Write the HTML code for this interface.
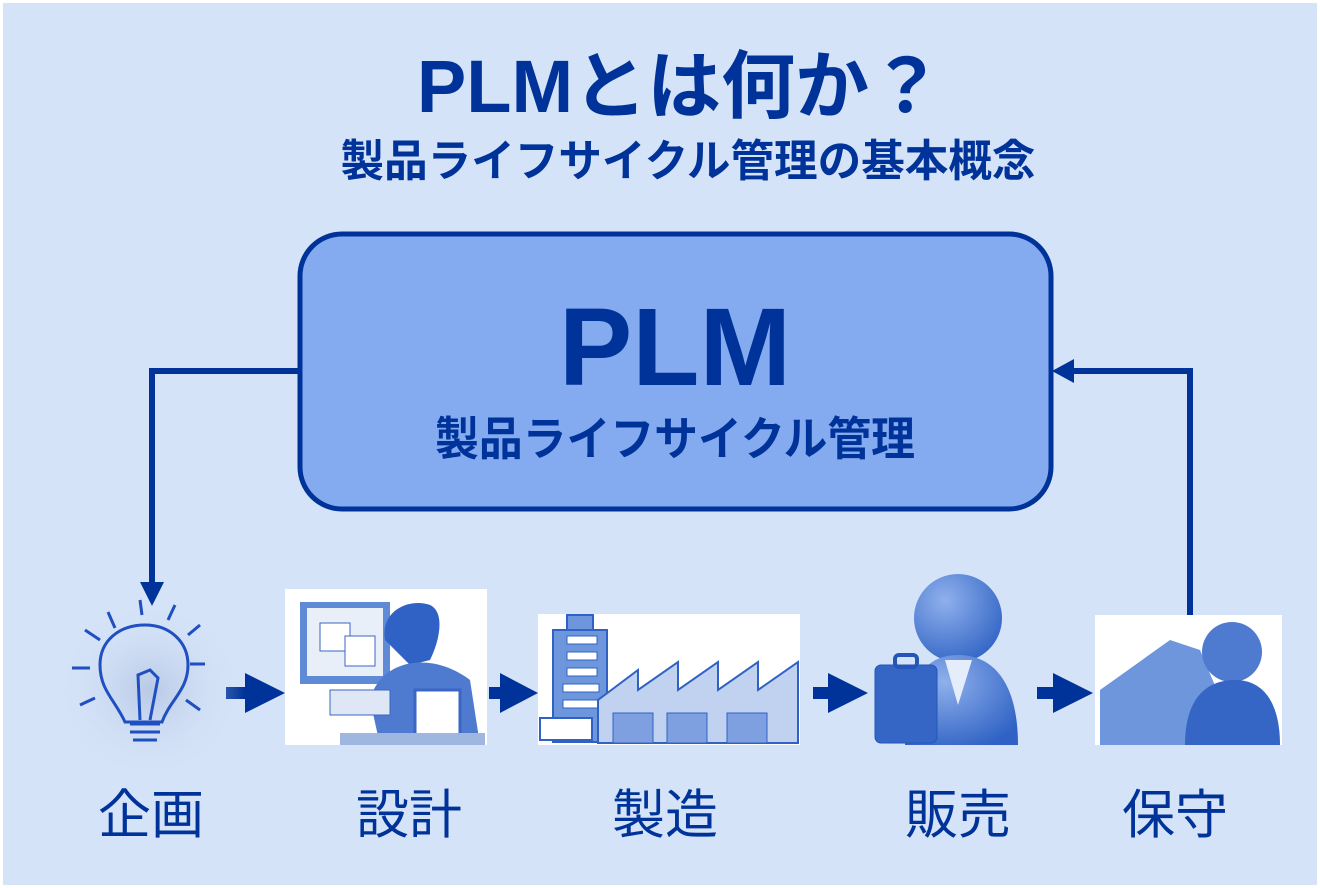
<!DOCTYPE html>
<html><head><meta charset="utf-8"><style>
html,body{margin:0;padding:0;}
body{width:1320px;height:888px;background:#fff;overflow:hidden;}
svg{display:block;}
text{font-family:"Liberation Sans","Noto Sans CJK JP",sans-serif;fill:#003399;}
</style></head><body>
<svg width="1320" height="888" viewBox="0 0 1320 888" xmlns="http://www.w3.org/2000/svg">
<defs>
<radialGradient id="glow" cx="0.5" cy="0.5" r="0.5"><stop offset="0" stop-color="#b8c9e6"/><stop offset="1" stop-color="#d5e3f8" stop-opacity="0"/></radialGradient>
<radialGradient id="ball" cx="0.35" cy="0.3" r="0.8"><stop offset="0" stop-color="#8fb0ec"/><stop offset="1" stop-color="#2f62c4"/></radialGradient>
</defs>
<rect x="3" y="3" width="1314" height="882" fill="#d5e3f8"/>
<text x="680" y="112" font-size="74" font-weight="bold" text-anchor="middle">PLMとは何か？</text>
<text x="688" y="176" font-size="44" font-weight="bold" text-anchor="middle" textLength="695" lengthAdjust="spacingAndGlyphs">製品ライフサイクル管理の基本概念</text>
<rect x="300" y="234" width="751" height="275" rx="42" fill="#84aaf0" stroke="#003399" stroke-width="5"/>
<text x="675" y="385" font-size="110" font-weight="bold" text-anchor="middle">PLM</text>
<text x="675" y="455" font-size="46" font-weight="bold" text-anchor="middle" textLength="480" lengthAdjust="spacingAndGlyphs">製品ライフサイクル管理</text>
<!-- connectors -->
<polyline points="300,371 152,371 152,585" fill="none" stroke="#003399" stroke-width="6"/>
<polygon points="140,582 164,582 152,606" fill="#003399"/>
<polyline points="1190,618 1190,371 1072,371" fill="none" stroke="#003399" stroke-width="6"/>
<polygon points="1074,359 1074,383 1052,371" fill="#003399"/>
<!-- flow arrows -->
<g fill="#003399">
<polygon points="226,687 245,687 245,673 285,693 245,713 245,699 226,699"/>
<polygon points="489,687 500,687 500,673 538,693 500,713 500,699 489,699"/>
<polygon points="813,687 828,687 828,673 868,693 828,713 828,699 813,699"/>
<polygon points="1037,687 1053,687 1053,673 1093,693 1053,713 1053,699 1037,699"/>
</g>
<!-- bulb -->
<ellipse cx="150" cy="690" rx="95" ry="90" fill="url(#glow)"/>
<g stroke="#1f4fc0" stroke-width="3" fill="none">
<path d="M125,722 C115,700 100,690 100,665 C100,640 120,625 145,625 C170,625 188,642 188,665 C188,690 170,700 162,722 Z"/>
<path d="M130,724 L160,724 M130,732 L160,732 M133,740 L157,740"/>
<path d="M140,720 L138,675 L150,670 L158,678 L150,720"/>
<path d="M85,630 L100,640 M108,612 L115,628 M140,600 L142,615 M175,605 L168,620 M200,625 L188,635 M72,668 L90,668 M205,664 L190,664 M80,705 L95,698 M200,710 L186,700"/>
</g>
<!-- design -->
<rect x="285" y="589" width="202" height="156" fill="#fff"/>
<rect x="300" y="602" width="90" height="82" fill="#5f8ad6"/>
<rect x="307" y="608" width="76" height="68" fill="#e9eff9"/>
<rect x="320" y="623" width="30" height="28" fill="#fff" stroke="#3a67c3"/>
<rect x="345" y="636" width="30" height="30" fill="#fff" stroke="#3a67c3"/>
<path d="M385,640 C380,610 410,598 430,605 C445,612 440,640 430,660 L410,665 Z" fill="#2f62c4"/>
<path d="M370,700 C380,660 430,650 470,680 L480,745 L380,745 Z" fill="#4e7ad0"/>
<rect x="330" y="690" width="60" height="25" fill="#dfe7f6" stroke="#3a67c3"/>
<rect x="415" y="690" width="45" height="50" fill="#fff" stroke="#3a67c3" stroke-width="3"/>
<rect x="340" y="733" width="145" height="12" fill="#9fb6e0"/>
<!-- factory -->
<rect x="538" y="614" width="262" height="131" fill="#fff"/>
<rect x="553" y="630" width="54" height="112" fill="#6e96dd" stroke="#2f62c4" stroke-width="2"/>
<rect x="567" y="615" width="26" height="15" fill="#6e96dd" stroke="#2f62c4" stroke-width="2"/>
<g fill="#fff" stroke="#2f62c4"><rect x="567" y="636" width="30" height="8"/><rect x="567" y="652" width="30" height="8"/><rect x="567" y="668" width="30" height="8"/><rect x="563" y="684" width="36" height="8"/><rect x="563" y="700" width="36" height="8"/></g>
<path d="M598,700 L638,670 L638,690 L678,662 L678,690 L718,662 L718,690 L758,662 L758,690 L798,662 L798,743 L598,743 Z" fill="#c1d2f1" stroke="#2f62c4" stroke-width="2"/>
<rect x="613" y="713" width="40" height="30" fill="#7ea0e0" stroke="#2f62c4"/>
<rect x="667" y="713" width="40" height="30" fill="#7ea0e0" stroke="#2f62c4"/>
<rect x="727" y="713" width="40" height="30" fill="#7ea0e0" stroke="#2f62c4"/>
<rect x="540" y="718" width="52" height="22" fill="#fff" stroke="#2f62c4" stroke-width="2"/>
<!-- salesman -->
<circle cx="958" cy="618" r="44" fill="url(#ball)"/>
<path d="M905,745 C905,680 925,655 958,655 C995,655 1018,685 1018,745 Z" fill="url(#ball)"/>
<path d="M945,660 L958,705 L972,660 Z" fill="#e6edfa"/>
<rect x="875" y="665" width="62" height="78" rx="6" fill="#3566c6" stroke="#2456b8"/>
<rect x="895" y="655" width="22" height="12" rx="4" fill="none" stroke="#2456b8" stroke-width="4"/>
<!-- maintenance -->
<rect x="1095" y="615" width="187" height="130" fill="#fff"/>
<path d="M1100,745 L1100,690 L1170,640 L1200,650 L1240,745 Z" fill="#6e96dd"/>
<circle cx="1232" cy="652" r="30" fill="#4e7ad0"/>
<path d="M1185,745 C1185,700 1205,680 1235,680 C1265,680 1280,705 1280,745 Z" fill="#3566c6"/>
<!-- labels -->
<g font-size="53">
<text x="151" y="833" text-anchor="middle">企画</text>
<text x="409" y="833" text-anchor="middle">設計</text>
<text x="665" y="833" text-anchor="middle">製造</text>
<text x="958" y="833" text-anchor="middle">販売</text>
<text x="1175" y="833" text-anchor="middle">保守</text>
</g>
</svg>
</body></html>
